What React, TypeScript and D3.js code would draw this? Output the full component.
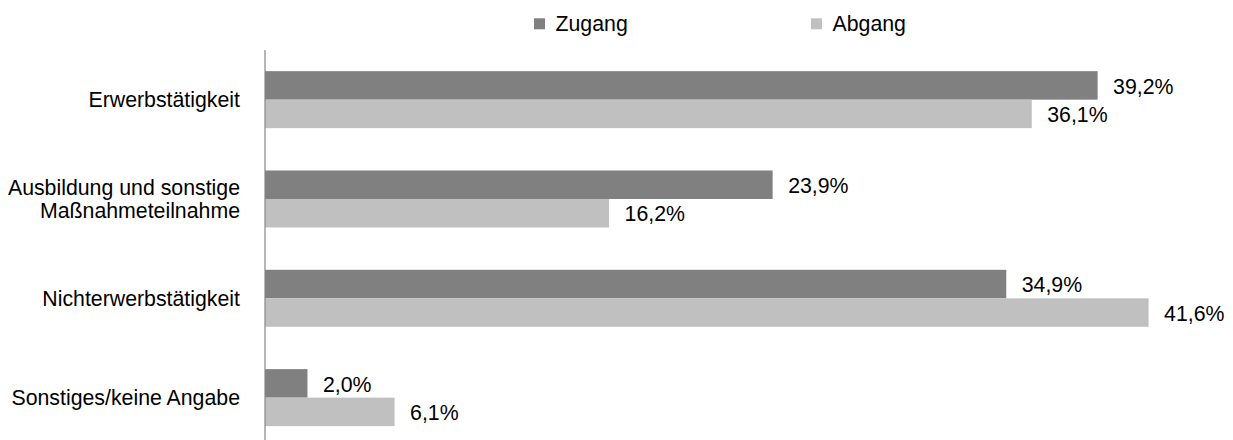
// Grouped horizontal bar chart: Zugang vs. Abgang by status
import { useEffect, useRef } from 'react'
import * as d3 from 'd3'

const categories = [
  'Erwerbstätigkeit',
  'Ausbildung und sonstige\nMaßnahmeteilnahme',
  'Nichterwerbstätigkeit',
  'Sonstiges/keine Angabe'
]
const series = ['Zugang', 'Abgang']
const zugang = [39.2, 23.9, 34.9, 2.0]
const abgang = [36.1, 16.2, 41.6, 6.1]
const colors = ['#808080', '#c0c0c0']

const width = 1233
const height = 440

export default function App() {
  const svgRef = useRef<SVGSVGElement>(null)

  useEffect(() => {
    if (!svgRef.current) return
    const svg = d3.select(svgRef.current)
    svg.selectAll('*').remove()

    const font = '"Liberation Sans", Arial, sans-serif'
    const fontSize = 21.3
    const capHalf = fontSize * 0.716 / 2
    const left = 265
    const top = 50
    const bottom = 447.3

    const x = d3.scaleLinear().domain([0, 45]).range([left, left + 45 * 21.24])
    const y = d3.scaleBand<string>()
      .domain(categories)
      .range([top, bottom])
      .paddingInner(0.426)
      .paddingOuter(0.213)
    const inner = d3.scaleBand<string>()
      .domain(series)
      .range([0, y.bandwidth()])

    const rows = categories.map((c, i) => ({ cat: c, values: [zugang[i], abgang[i]] }))

    // bars
    const groups = svg.selectAll('.row')
      .data(rows)
      .enter().append('g')
      .attr('class', 'row')
      .attr('transform', d => `translate(0,${y(d.cat)})`)

    series.forEach((s, si) => {
      groups.append('rect')
        .attr('x', x(0))
        .attr('y', inner(s)!)
        .attr('width', d => x(d.values[si]) - x(0))
        .attr('height', inner.bandwidth())
        .attr('fill', colors[si])

      groups.append('text')
        .attr('x', d => x(d.values[si]) + 15.5)
        .attr('y', inner(s)! + inner.bandwidth() / 2 + capHalf + 0.5)
        .style('font-family', font)
        .style('font-size', `${fontSize}px`)
        .style('fill', '#000')
        .text(d => d.values[si].toFixed(1).replace('.', ',') + '%')
    })

    // category axis line
    svg.append('line')
      .attr('x1', x(0)).attr('x2', x(0))
      .attr('y1', top).attr('y2', bottom)
      .attr('stroke', '#868686')
      .attr('stroke-width', 1.2)

    // category labels
    const lineH = 23.5
    rows.forEach(r => {
      const lines = r.cat.split('\n')
      const cy = y(r.cat)! + y.bandwidth() / 2
      const t = svg.append('text')
        .attr('text-anchor', 'end')
        .style('font-family', font)
        .style('font-size', `${fontSize}px`)
        .style('fill', '#000')
      lines.forEach((ln, li) => {
        t.append('tspan')
          .attr('x', 240)
          .attr('y', cy + capHalf + (li - (lines.length - 1) / 2) * lineH)
          .text(ln)
      })
    })

    // legend
    const legendX = [534, 811]
    series.forEach((s, si) => {
      svg.append('rect')
        .attr('x', legendX[si])
        .attr('y', 18.3)
        .attr('width', 11)
        .attr('height', 11)
        .attr('fill', colors[si])
      svg.append('text')
        .attr('x', legendX[si] + 21.5)
        .attr('y', 31)
        .style('font-family', font)
        .style('font-size', `${fontSize}px`)
        .style('fill', '#000')
        .text(s)
    })
  }, [])

  return (
    <svg
      ref={svgRef}
      width={width}
      height={height}
      style={{ position: 'absolute', left: 0, top: 0, background: '#fff' }}
    />
  )
}
